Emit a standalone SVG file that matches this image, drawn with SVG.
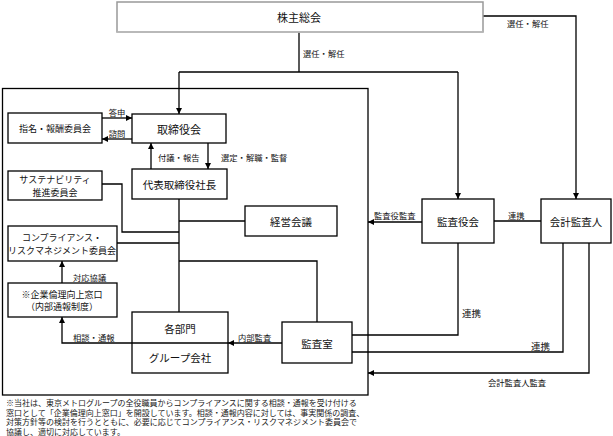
<svg xmlns="http://www.w3.org/2000/svg" width="613" height="436" viewBox="0 0 613 436">
<defs>
<marker id="ah" viewBox="0 0 10 10" refX="10" refY="5" markerWidth="6" markerHeight="6" markerUnits="userSpaceOnUse" orient="auto">
<path d="M0,0 L10,5 L0,10 z" fill="#000"/>
</marker>
<style>
text{font-family:"Noto Sans CJK JP","Noto Sans",sans-serif;fill:#111;dominant-baseline:central}
.box{fill:#fff;stroke:#000;stroke-width:1.3}
.ln{fill:none;stroke:#000;stroke-width:1.3}
.ar{fill:none;stroke:#000;stroke-width:1.3;marker-end:url(#ah)}
.t11{font-size:11px;text-anchor:middle}
.t10{font-size:10.5px;text-anchor:middle}
.t9{font-size:9px;text-anchor:middle}
.lb{font-size:8.3px}
.note{font-family:"Liberation Serif","Noto Sans CJK JP",serif;font-size:8px;fill:#222;dominant-baseline:auto}
</style>
</defs>
<rect width="613" height="436" fill="#fff"/>

<g id="frame"><rect x="2.5" y="88.5" width="365.5" height="306.5" fill="none" stroke="#000" stroke-width="1.3"/></g>

<g id="connectors">
<polyline class="ln" points="299,32 299,72"/>
<polyline class="ln" points="179,72 458,72"/>
<polyline class="ar" points="179,72 179,114"/>
<polyline class="ar" points="458,72 458,199"/>
<polyline class="ar" points="483,16 576,16 576,199"/>
<polyline class="ar" points="102,118 132,118"/>
<polyline class="ar" points="132,139 102,139"/>
<polyline class="ar" points="151,169 151,143"/>
<polyline class="ar" points="208,143 208,169"/>
<polyline class="ln" points="179,199 179,312"/>
<polyline class="ln" points="102,184 122,184 122,232 179,232"/>
<polyline class="ln" points="179,221 245,221"/>
<polyline class="ln" points="117,243 179,243"/>
<polyline class="ln" points="179,261 317,261 317,322"/>
<polyline class="ar" points="62,283 62,261"/>
<polyline class="ar" points="132,343 62,343 62,317"/>
<polyline class="ar" points="282,343 228,343"/>
<polyline class="ar" points="422,222 368,222"/>
<polyline class="ln" points="494,221 541,221"/>
<polyline class="ln" points="458,243 458,335 352,335"/>
<polyline class="ln" points="563,243 563,352 352,352"/>
<polyline class="ar" points="589,243 589,373 368,373"/>
</g>

<g id="labels">
<text class="lb" x="303" y="53">選任・解任</text>
<text class="lb" x="507" y="23">選任・解任</text>
<text class="lb" x="117" y="112" text-anchor="middle">答申</text>
<text class="lb" x="117" y="133" text-anchor="middle">諮問</text>
<text class="lb" x="158" y="157">付議・報告</text>
<text class="lb" x="221" y="157">選定・解職・監督</text>
<text class="lb" x="73" y="277">対応協議</text>
<text class="lb" x="73" y="337">相談・通報</text>
<text class="lb" x="238" y="337">内部監査</text>
<text class="lb" x="374" y="215">監査役監査</text>
<text class="lb" x="508" y="215">連携</text>
<text x="462" y="313" style="font-size:9.5px">連携</text>
<text x="531" y="346" style="font-size:9.5px">連携</text>
<text class="lb" x="488" y="382">会計監査人監査</text>
</g>

<g id="n-shareholders">
<rect x="117" y="2" width="366" height="30" fill="#fff" stroke="#999" stroke-width="1.5"/>
<line x1="117" y1="32" x2="483" y2="32" stroke="#bbb" stroke-width="1.5"/>
<text class="t11" x="299" y="17">株主総会</text>
</g>
<g id="n-board"><rect class="box" x="132" y="114" width="94" height="29"/><text class="t11" x="179" y="128.5">取締役会</text></g>
<g id="n-nomination"><rect class="box" x="8" y="113" width="94" height="30"/><text class="t9" x="55" y="128">指名・報酬委員会</text></g>
<g id="n-sustain"><rect class="box" x="8" y="171" width="94" height="29"/><text class="t9" x="55" y="179.5">サステナビリティ</text><text class="t9" x="55" y="192">推進委員会</text></g>
<g id="n-president"><rect class="box" x="132" y="169" width="95" height="30"/><text class="t10" x="179.5" y="184">代表取締役社長</text></g>
<g id="n-mgmt"><rect class="box" x="245" y="206" width="92" height="30"/><text class="t10" x="291" y="221">経営会議</text></g>
<g id="n-compliance"><rect class="box" x="8" y="226" width="109" height="35"/><text class="t9" x="62" y="237">コンプライアンス・</text><text class="t9" x="62" y="250">リスクマネジメント委員会</text></g>
<g id="n-ethics"><rect class="box" x="8" y="283" width="109" height="34"/><text class="t9" x="62" y="294.5">※企業倫理向上窓口</text><text class="t9" x="62" y="306">（内部通報制度）</text></g>
<g id="n-depts"><rect class="box" x="132" y="312" width="96" height="61"/><line x1="132" y1="343" x2="228" y2="343" stroke="#000" stroke-width="1.3"/><text class="t10" x="180" y="328">各部門</text><text class="t10" x="180" y="357">グループ会社</text></g>
<g id="n-audit-office"><rect class="box" x="282" y="322" width="70" height="41"/><text class="t10" x="317" y="343">監査室</text></g>
<g id="n-auditors"><rect class="box" x="422" y="199" width="72" height="44"/><text class="t10" x="458" y="221">監査役会</text></g>
<g id="n-accountant"><rect class="box" x="541" y="199" width="70" height="44"/><text class="t10" x="576" y="221">会計監査人</text></g>

<g id="footnote">
<text class="note" x="6" y="406">※当社は、東京メトログループの全役職員からコンプライアンスに関する相談・通報を受け付ける</text>
<text class="note" x="6" y="415.5">窓口として「企業倫理向上窓口」を開設しています。相談・通報内容に対しては、事実関係の調査、</text>
<text class="note" x="6" y="425">対策方針等の検討を行うとともに、必要に応じてコンプライアンス・リスクマネジメント委員会で</text>
<text class="note" x="6" y="434.5">協議し、適切に対応しています。</text>
</g>
</svg>
